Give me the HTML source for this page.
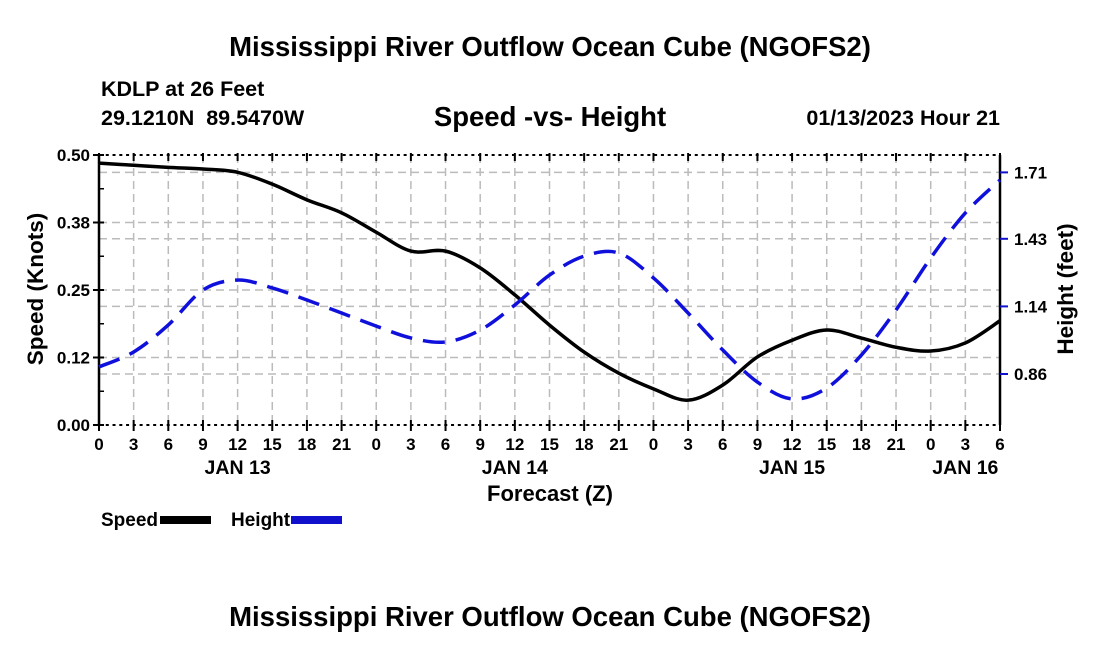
<!DOCTYPE html>
<html><head><meta charset="utf-8"><style>
body{margin:0;background:#fff;width:1100px;height:650px;overflow:hidden;font-family:"Liberation Sans",Arial,sans-serif}
svg text{font-family:"Liberation Sans",Arial,sans-serif;font-weight:bold;fill:#000}
</style></head><body>
<svg id="c" width="1100" height="650">
<text x="550" y="56" font-size="27.5" text-anchor="middle">Mississippi River Outflow Ocean Cube (NGOFS2)</text>
<text x="101" y="96" font-size="21.5">KDLP at 26 Feet</text>
<text x="101" y="125" font-size="21.5">29.1210N&#160;&#160;89.5470W</text>
<text x="550" y="126" font-size="27.5" text-anchor="middle">Speed -vs- Height</text>
<text x="1000" y="125" font-size="21.5" text-anchor="end">01/13/2023 Hour 21</text>
<text transform="translate(43,289) rotate(-90)" font-size="22.5" text-anchor="middle">Speed (Knots)</text>
<text transform="translate(1073,289) rotate(-90)" font-size="22.5" text-anchor="middle">Height (feet)</text>
<text x="550" y="501" font-size="22" text-anchor="middle">Forecast (Z)</text>
<g>
<text x="101" y="526" font-size="19">Speed</text>
<rect x="160" y="516" width="51" height="8" fill="#000"/>
<text x="231" y="526" font-size="19">Height</text>
<rect x="291" y="516" width="51" height="8" fill="#1010cc"/>
</g>
<text x="550" y="626" font-size="27.5" text-anchor="middle">Mississippi River Outflow Ocean Cube (NGOFS2)</text>
<g id="plot"></g>
</svg>
<script>
const hours=[0,3,6,9,12,15,18,21,24,27,30,33,36,39,42,45,48,51,54,57,60,63,66,69,72,75,78];
const speed=[0.485,0.481,0.477,0.474,0.468,0.446,0.417,0.393,0.357,0.322,0.322,0.291,0.241,0.185,0.135,0.096,0.067,0.046,0.074,0.126,0.157,0.176,0.161,0.144,0.137,0.152,0.193];
const height=[0.89,0.953,1.067,1.214,1.256,1.223,1.172,1.117,1.062,1.012,0.995,1.045,1.151,1.277,1.357,1.37,1.265,1.117,0.961,0.826,0.755,0.801,0.94,1.13,1.349,1.539,1.678];
const leftTicks=[0,0.125,0.25,0.375,0.5];
const leftLabels=["0.00","0.12","0.25","0.38","0.50"];
const rightTicks=[0.86,1.145,1.43,1.71];
const rightLabels=["0.86","1.14","1.43","1.71"];
const hourLabels=["0","3","6","9","12","15","18","21","0","3","6","9","12","15","18","21","0","3","6","9","12","15","18","21","0","3","6"];
const dayLabels=["JAN 13","JAN 14","JAN 15","JAN 16"];
const dayHours=[12,36,60,75];
const L=99,R=1000,T=155,B=425;
const xs=h=>L+h*(R-L)/78;
const ys=v=>B-v*(B-T)/0.5;
const hMin=0.86-51*0.285/67.6, hMax=hMin+270*0.285/67.6;
const yh=v=>B-(v-hMin)*(B-T)/(hMax-hMin);
const NS="http://www.w3.org/2000/svg";
const g=document.getElementById('plot');
function mk(t,a,p){const e=document.createElementNS(NS,t);for(const k in a)e.setAttribute(k,a[k]);(p||g).appendChild(e);return e;}
hours.forEach((h,i)=>{if(i>0&&i<hours.length-1){const e=mk('line',{x1:xs(h),x2:xs(h),y1:T,y2:B,stroke:'#bbb','stroke-width':1.5,'stroke-dasharray':'8,5'});

}});
leftTicks.forEach(v=>{if(v>0&&v<0.5){const e=mk('line',{x1:L,x2:R,y1:ys(v),y2:ys(v),stroke:'#bbb','stroke-width':1.5,'stroke-dasharray':'8,5'});

}});
rightTicks.forEach(v=>{const e=mk('line',{x1:L,x2:R,y1:yh(v),y2:yh(v),stroke:'#bbb','stroke-width':1.5,'stroke-dasharray':'8,5'});

});
[[L,T,L,B],[R,T,R,B]].forEach(c=>{const e=mk('line',{x1:c[0],y1:c[1],x2:c[2],y2:c[3],stroke:'#000','stroke-width':2.5});

});
[T,B].forEach(y=>{const e=mk('line',{x1:L,x2:R,y1:y,y2:y,stroke:'#000','stroke-width':2,'stroke-dasharray':'3,3.77'});

});
hours.forEach((h,i)=>{mk('line',{x1:xs(h),x2:xs(h),y1:B-5,y2:B+6,stroke:'#000','stroke-width':2});mk('line',{x1:xs(h),x2:xs(h),y1:T-2,y2:T+6,stroke:'#000','stroke-width':2});
const t=mk('text',{x:xs(h),y:B+25,'font-size':17,'text-anchor':'middle'});t.textContent=hourLabels[i];

});
dayLabels.forEach((d,i)=>{const t=mk('text',{x:xs(dayHours[i]),y:B+49,'font-size':19.5,'text-anchor':'middle'});t.textContent=d;

});
leftTicks.forEach((v,i)=>{mk('line',{x1:L-6,x2:L+5,y1:ys(v),y2:ys(v),stroke:'#000','stroke-width':2});
const t=mk('text',{x:L-9,y:ys(v)+6,'font-size':17,'text-anchor':'end'});t.textContent=leftLabels[i];

});
for(let v=0.0625;v<0.5;v+=0.125)mk('line',{x1:L,x2:L+5,y1:ys(v),y2:ys(v),stroke:'#000','stroke-width':1.5});
rightTicks.forEach((v,i)=>{mk('line',{x1:R,x2:R+8,y1:yh(v),y2:yh(v),stroke:'#1010cc','stroke-width':2});
const t=mk('text',{x:R+14,y:yh(v)+6,'font-size':17});t.textContent=rightLabels[i];

});
function path(pts){let d='M'+pts[0][0]+','+pts[0][1];for(let i=0;i<pts.length-1;i++){const p0=pts[Math.max(0,i-1)],p1=pts[i],p2=pts[i+1],p3=pts[Math.min(pts.length-1,i+2)];
d+=' C'+(p1[0]+(p2[0]-p0[0])/6)+','+(p1[1]+(p2[1]-p0[1])/6)+' '+(p2[0]-(p3[0]-p1[0])/6)+','+(p2[1]-(p3[1]-p1[1])/6)+' '+p2[0]+','+p2[1];}return d;}
const sp=mk('path',{d:path(hours.map((h,i)=>[xs(h),ys(speed[i])])),fill:'none',stroke:'#000','stroke-width':3.5});


const hp=mk('path',{d:path(hours.map((h,i)=>[xs(h),yh(height[i])])),fill:'none',stroke:'#1010dd','stroke-width':3.5,'stroke-dasharray':'22,11'});


</script>
</body></html>
